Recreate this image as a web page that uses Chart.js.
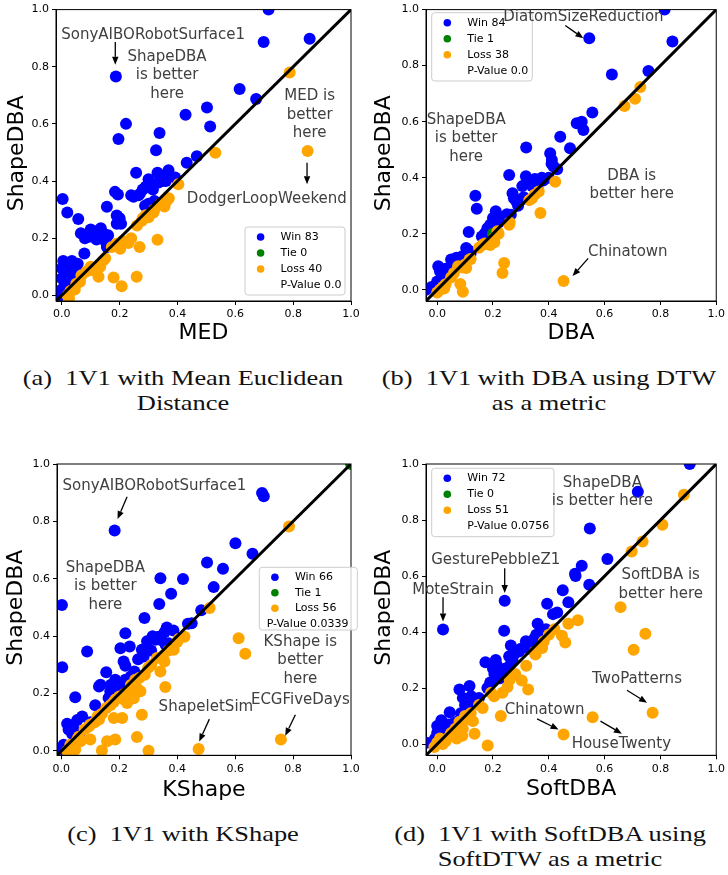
<!DOCTYPE html>
<html>
<head>
<meta charset="utf-8">
<script src="https://cdn.jsdelivr.net/npm/chart.js@4.4.1/dist/chart.umd.min.js"></script>
<style>
  body { margin: 0; background: #fff; width: 728px; height: 875px; position: relative; overflow: hidden; }
  .panel { position: absolute; }
  .cap { position: absolute; width: 364px; text-align: center; font-family: 'Liberation Serif', serif;
         font-size: 22px; line-height: 25px; color: #111; white-space: nowrap; transform: scaleX(1.2); }
</style>
</head>
<body>
<div class="panel" style="left:0;top:0"><canvas id="chartA" width="364" height="350"></canvas></div>
<div class="panel" style="left:364px;top:0"><canvas id="chartB" width="364" height="350"></canvas></div>
<div class="panel" style="left:0;top:450px"><canvas id="chartC" width="364" height="360"></canvas></div>
<div class="panel" style="left:364px;top:450px"><canvas id="chartD" width="364" height="360"></canvas></div>

<div class="cap" style="left:1px;top:365px">(a)&nbsp; 1V1 with Mean Euclidean<br>Distance</div>
<div class="cap" style="left:367px;top:365px">(b)&nbsp; 1V1 with DBA using DTW<br>as a metric</div>
<div class="cap" style="left:1px;top:821px">(c)&nbsp; 1V1 with KShape</div>
<div class="cap" style="left:368px;top:821px">(d)&nbsp; 1V1 with SoftDBA using<br>SoftDTW as a metric</div>

<script>
// ---- data: [x, y] pairs, x = competitor error, y = ShapeDBA error ----
var tickVals = [0.0, 0.2, 0.4, 0.6, 0.8, 1.0];

var aWin = [[0.715,1.0],[0.698,0.887],[0.857,0.898],[0.187,0.766],[0.615,0.722],[0.672,0.687],[0.502,0.657],
  [0.513,0.591],[0.428,0.632],[0.222,0.6],[0.196,0.547],[0.338,0.568],[0.326,0.508],[0.467,0.487],[0.432,0.464],
  [0.257,0.429],[0.331,0.429],[0.369,0.438],[0.392,0.412],[0.30,0.406],[0.31,0.385],[0.29,0.38],[0.315,0.37],
  [0.335,0.395],[0.35,0.40],[0.184,0.362],[0.194,0.353],[0.248,0.345],[0.265,0.35],[0.003,0.337],[0.019,0.29],
  [0.156,0.31],[0.057,0.267],[0.19,0.279],[0.19,0.25],[0.205,0.25],[0.288,0.313],[0.30,0.32],[0.32,0.33],
  [0.066,0.217],[0.094,0.205],[0.11,0.215],[0.125,0.225],[0.135,0.235],[0.145,0.215],[0.16,0.21],[0.15,0.19],
  [0.078,0.146],[0.156,0.169],[0.005,0.12],[0.015,0.11],[0.0,0.095],[0.03,0.085],[0.055,0.11],[0.06,0.08],
  [0.0,0.06],[0.01,0.04],[0.0,0.02],[-0.005,0.0],[0.02,0.07],[0.04,0.06],[0.1,0.23],[0.08,0.2],[0.27,0.355],
  [0.28,0.37],[0.34,0.42],[0.36,0.41],[0.24,0.35],[0.2,0.27],[0.155,0.18],[0.045,0.1],[0.025,0.05],[0.12,0.195],
  [0.035,0.12],[0.36,0.40]];
var aTie = [];
var aLoss = [[0.531,0.499],[0.788,0.78],[0.85,0.505],[0.403,0.389],[0.363,0.331],[0.355,0.311],[0.34,0.319],
  [0.317,0.29],[0.30,0.273],[0.277,0.261],[0.26,0.244],[0.331,0.194],[0.269,0.169],[0.23,0.183],[0.202,0.163],
  [0.173,0.169],[0.144,0.123],[0.133,0.10],[0.109,0.088],[0.086,0.084],[0.127,0.065],[0.063,0.047],[0.068,0.07],
  [0.179,0.062],[0.207,0.032],[0.259,0.065],[0.02,0.0],[0.03,0.015],[0.025,-0.01],[0.29,0.28],[0.32,0.3],
  [0.24,0.2],[0.15,0.13],[0.1,0.1],[0.05,0.04],[0.37,0.34],[0.21,0.19],[0.045,0.02],[0.28,0.27],[0.19,0.18]];
var aLegend = ['Win 83', 'Tie 0', 'Loss 40', 'P-Value 0.0'];

var bWin = [[0.815,1.0],[0.843,0.886],[0.545,0.898],[0.757,0.781],[0.626,0.768],[0.556,0.633],[0.50,0.594],
  [0.518,0.60],[0.524,0.57],[0.441,0.546],[0.476,0.505],[0.319,0.508],[0.405,0.487],[0.411,0.463],[0.417,0.44],
  [0.43,0.43],[0.258,0.41],[0.318,0.405],[0.33,0.385],[0.35,0.395],[0.36,0.378],[0.305,0.37],[0.34,0.37],
  [0.375,0.4],[0.4,0.4],[0.27,0.345],[0.275,0.327],[0.284,0.315],[0.137,0.336],[0.142,0.289],[0.21,0.28],
  [0.2,0.256],[0.19,0.232],[0.187,0.209],[0.22,0.26],[0.23,0.25],[0.113,0.206],[0.104,0.149],[0.113,0.14],
  [0.069,0.114],[0.05,0.108],[0.08,0.11],[0.004,0.084],[0.01,0.066],[0.027,0.06],[-0.04,0.0],[0.0,0.013],
  [0.264,0.268],[0.17,0.2],[0.18,0.22],[0.12,0.13],[0.03,0.075],[0.05,0.07],[0.02,0.04],[0.04,0.05],[-0.02,0.01],
  [0.29,0.3],[0.31,0.33],[0.25,0.27],[0.36,0.36],[0.38,0.39],[0.41,0.45],[0.22,0.24],[0.21,0.22],[0.06,0.09],
  [0.09,0.12],[0.16,0.19],[0.0,0.03],[0.2,0.21],[0.3,0.32]];
var bTie = [[0.2,0.2]];
var bLoss = [[0.728,0.724],[0.709,0.682],[0.671,0.656],[0.423,0.386],[0.364,0.351],[0.34,0.327],[0.37,0.274],
  [0.258,0.232],[0.216,0.209],[0.204,0.185],[0.199,0.173],[0.163,0.161],[0.116,0.108],[0.104,0.078],[0.24,0.096],
  [0.234,0.06],[0.083,0.021],[0.092,-0.007],[0.453,0.031],[0.01,0.0],[0.02,0.01],[0.03,0.02],[0.075,0.084],
  [0.26,0.24],[0.15,0.15],[0.1,0.09],[0.05,0.045],[0.19,0.16],[0.33,0.32],[0.0,-0.01],[0.12,0.11],[0.06,0.06],
  [0.22,0.2],[0.35,0.34],[0.09,0.08],[0.025,0.005],[0.17,0.165],[0.205,0.17]];
var bLegend = ['Win 84', 'Tie 1', 'Loss 38', 'P-Value 0.0'];

var cWin = [[0.693,0.899],[0.699,0.888],[0.184,0.768],[0.601,0.724],[0.66,0.687],[0.503,0.657],[0.558,0.635],
  [0.526,0.571],[0.342,0.602],[0.42,0.599],[0.379,0.548],[0.338,0.512],[0.483,0.49],[0.002,0.509],[0.287,0.463],
  [0.437,0.443],[0.364,0.43],[0.387,0.42],[0.357,0.415],[0.335,0.398],[0.346,0.386],[0.37,0.375],[0.325,0.388],
  [0.221,0.41],[0.296,0.382],[0.204,0.358],[0.236,0.364],[0.089,0.347],[0.215,0.312],[0.221,0.297],[0.278,0.353],
  [0.284,0.329],[0.252,0.277],[0.003,0.292],[0.155,0.274],[0.186,0.248],[0.204,0.237],[0.221,0.248],[0.135,0.231],
  [0.13,0.225],[0.169,0.208],[0.163,0.185],[0.048,0.187],[0.117,0.159],[0.072,0.12],[0.055,0.108],[0.02,0.095],
  [0.03,0.083],[0.037,0.06],[0.065,0.065],[0.008,0.022],[0.014,0.005],[0.0,0.007],[0.265,0.32],[0.24,0.26],
  [0.2,0.225],[0.18,0.2],[0.315,0.4],[0.36,0.37],[0.31,0.35],[0.1,0.1],[0.04,0.09],[0.025,0.075],[0.17,0.23],
  [0.45,0.445]];
var cTie = [[1.0,1.0]];
var cLoss = [[0.786,0.782],[0.512,0.498],[0.612,0.393],[0.635,0.339],[0.425,0.398],[0.405,0.39],[0.388,0.353],
  [0.342,0.277],[0.356,0.312],[0.33,0.324],[0.359,0.223],[0.288,0.266],[0.255,0.248],[0.273,0.208],[0.25,0.184],
  [0.227,0.167],[0.215,0.18],[0.278,0.126],[0.186,0.179],[0.181,0.115],[0.21,0.115],[0.155,0.15],[0.125,0.121],
  [0.1,0.092],[0.1,0.04],[0.158,0.034],[0.186,0.04],[0.261,0.049],[0.14,0.002],[0.301,0.001],[0.474,0.007],
  [0.758,0.04],[0.048,0.005],[0.031,0.022],[0.066,0.034],[0.24,0.23],[0.3,0.29],[0.22,0.2],[0.17,0.16],
  [0.14,0.13],[0.37,0.35],[0.4,0.38],[0.27,0.255],[0.2,0.19],[0.115,0.1],[0.08,0.075],[0.055,0.04],[0.02,0.0],
  [0.245,0.21],[0.31,0.3],[0.35,0.33],[0.13,0.11],[0.18,0.17],[0.26,0.22],[0.06,0.05],[0.095,0.085]];
var cLegend = ['Win 66', 'Tie 1', 'Loss 56', 'P-Value 0.0339'];

var dWin = [[0.905,1.0],[0.719,0.901],[0.547,0.77],[0.61,0.661],[0.518,0.637],[0.494,0.608],[0.496,0.6],
  [0.545,0.569],[0.45,0.549],[0.47,0.506],[0.394,0.501],[0.415,0.464],[0.242,0.512],[0.021,0.409],[0.24,0.405],
  [0.36,0.43],[0.355,0.39],[0.375,0.4],[0.347,0.375],[0.318,0.367],[0.335,0.35],[0.264,0.352],[0.293,0.331],
  [0.275,0.32],[0.258,0.314],[0.173,0.292],[0.21,0.3],[0.215,0.28],[0.2,0.27],[0.205,0.25],[0.235,0.25],
  [0.245,0.27],[0.26,0.28],[0.225,0.235],[0.08,0.195],[0.116,0.207],[0.092,0.165],[0.122,0.171],[0.128,0.153],
  [0.1,0.14],[0.045,0.114],[0.015,0.085],[0.03,0.06],[0.025,0.045],[0.06,0.075],[0.07,0.08],[-0.038,0.005],
  [-0.008,0.019],[0.0,0.04],[0.05,0.06],[0.11,0.12],[0.3,0.34],[0.39,0.41],[0.43,0.47],[0.33,0.34],[0.15,0.165],
  [0.19,0.22],[0.22,0.26],[0.04,0.07],[0.0,0.065],[0.085,0.11],[0.27,0.3],[0.36,0.38],[0.18,0.2],[0.012,0.03]];
var dTie = [];
var dLoss = [[0.884,0.89],[0.807,0.783],[0.736,0.723],[0.697,0.688],[0.657,0.489],[0.746,0.394],[0.704,0.337],
  [0.772,0.112],[0.557,0.096],[0.453,0.034],[0.504,0.442],[0.47,0.43],[0.447,0.387],[0.459,0.363],[0.4,0.39],
  [0.382,0.367],[0.376,0.343],[0.352,0.32],[0.319,0.28],[0.303,0.227],[0.326,0.195],[0.252,0.204],[0.234,0.183],
  [0.193,0.183],[0.204,0.171],[0.163,0.129],[0.228,0.1],[0.128,0.082],[0.134,0.037],[0.181,-0.005],[0.08,0.08],
  [0.092,0.055],[0.07,0.02],[0.045,0.03],[0.02,0.0],[-0.01,-0.01],[0.01,0.02],[0.1,0.1],[0.12,0.11],[0.28,0.25],
  [0.26,0.23],[0.05,0.04],[0.15,0.14],[0.065,0.055],[0.03,0.01],[0.09,0.03],[0.11,0.09],[0.35,0.33],[0.42,0.41],
  [0.0,0.005],[0.075,0.06]];
var dLegend = ['Win 72', 'Tie 0', 'Loss 51', 'P-Value 0.0756'];

var BLUE = '#0000ff', GREEN = '#008000', ORANGE = '#ffa500', NOTE = '#404040';
Chart.defaults.font.family = "'DejaVu Sans', sans-serif";

function toXY(arr) { return arr.map(function (p) { return { x: p[0], y: p[1] }; }); }

// draws frame, legend box, notes, arrows and axis titles
var notesPlugin = {
  id: 'notes',
  afterDraw: function (chart) {
    var cfg = chart.options.plugins.notes, ctx = chart.ctx, ca = chart.chartArea;
    var sx = chart.scales.x, sy = chart.scales.y;
    ctx.save();
    ctx.strokeStyle = '#000';
    ctx.lineWidth = 1;
    ctx.strokeRect(ca.left, ca.top, ca.right - ca.left, ca.bottom - ca.top);

    // legend
    var lg = cfg.legend, colors = [BLUE, GREEN, ORANGE];
    ctx.fillStyle = 'rgba(255,255,255,0.8)';
    ctx.strokeStyle = '#cccccc';
    ctx.beginPath();
    ctx.roundRect(lg.left, lg.top, lg.w, lg.h, 3);
    ctx.fill();
    ctx.stroke();
    ctx.font = "11px 'DejaVu Sans'";
    ctx.textAlign = 'left';
    ctx.textBaseline = 'middle';
    cfg.labels.forEach(function (lab, i) {
      var y = lg.top + 10 + i * lg.step;
      if (i < 3) {
        ctx.fillStyle = colors[i];
        ctx.beginPath();
        ctx.arc(lg.left + 15.6, y, 3.8, 0, Math.PI * 2);
        ctx.fill();
      }
      ctx.fillStyle = '#000';
      ctx.fillText(lab, (i === 3 && lg.pvx) ? lg.pvx : lg.left + 35.6, y);
    });

    ctx.fillStyle = NOTE;
    ctx.font = "15px 'DejaVu Sans'";
    ctx.textAlign = 'center';
    cfg.texts.forEach(function (n) {
      var px = sx.getPixelForValue(n.x), py = sy.getPixelForValue(n.y);
      var lh = 18.5, y0 = py - (n.t.length - 1) * lh / 2;
      n.t.forEach(function (line, i) { ctx.fillText(line, px, y0 + i * lh); });
    });

    ctx.strokeStyle = '#000';
    ctx.fillStyle = '#000';
    ctx.lineWidth = 1.3;
    cfg.arrows.forEach(function (a) {
      var x1 = sx.getPixelForValue(a[0]), y1 = sy.getPixelForValue(a[1]);
      var x2 = sx.getPixelForValue(a[2]), y2 = sy.getPixelForValue(a[3]);
      var ang = Math.atan2(y2 - y1, x2 - x1), hl = 8, hw = 3.2;
      ctx.beginPath();
      ctx.moveTo(x1, y1);
      ctx.lineTo(x2 - hl * Math.cos(ang), y2 - hl * Math.sin(ang));
      ctx.stroke();
      ctx.beginPath();
      ctx.moveTo(x2, y2);
      ctx.lineTo(x2 - hl * Math.cos(ang) + hw * Math.sin(ang), y2 - hl * Math.sin(ang) - hw * Math.cos(ang));
      ctx.lineTo(x2 - hl * Math.cos(ang) - hw * Math.sin(ang), y2 - hl * Math.sin(ang) + hw * Math.cos(ang));
      ctx.closePath();
      ctx.fill();
    });

    // axis titles
    ctx.fillStyle = '#000';
    ctx.font = "22px 'DejaVu Sans'";
    ctx.fillText(cfg.xTitle, (ca.left + ca.right) / 2, cfg.xTitleY);
    ctx.save();
    ctx.translate(cfg.yTitleX, (ca.top + ca.bottom) / 2 - 2);
    ctx.rotate(-Math.PI / 2);
    ctx.fillText('ShapeDBA', 0, 0);
    ctx.restore();
    ctx.restore();
  }
};

function axisOpts(min, size, isX) {
  return {
    type: 'linear', min: min, max: 1,
    afterBuildTicks: function (s) { s.ticks = tickVals.map(function (v) { return { value: v }; }); },
    afterFit: function (s) { if (isX) { s.height = size; } else { s.width = size; } },
    ticks: { font: { size: 11 }, color: '#000', padding: 3, autoSkip: false, maxRotation: 0,
             callback: function (v) { return v.toFixed(1); } },
    grid: { drawOnChartArea: false, drawTicks: true, tickLength: 4, color: '#000' },
    border: { display: true, color: '#000', width: 1 }
  };
}

function makePanel(id, win, tie, loss, labels, p) {
  var lo = p.min, r = 6;
  return new Chart(document.getElementById(id), {
    type: 'scatter',
    data: {
      datasets: [
        { type: 'line', data: [{ x: lo, y: lo }, { x: 1, y: 1 }], borderColor: '#000', borderWidth: 3,
          pointRadius: 0, fill: false, order: 0 },
        { data: toXY(loss), backgroundColor: ORANGE, borderColor: ORANGE, borderWidth: 0, pointRadius: r, order: 1 },
        { data: toXY(tie), backgroundColor: GREEN, borderColor: GREEN, borderWidth: 0, pointRadius: r, order: 2 },
        { data: toXY(win), backgroundColor: BLUE, borderColor: BLUE, borderWidth: 0, pointRadius: r, order: 3 }
      ]
    },
    options: {
      responsive: false,
      animation: false,
      events: [],
      layout: { padding: { left: 0, right: p.padRight, top: p.padTop, bottom: 0 } },
      plugins: {
        legend: { display: false },
        tooltip: { enabled: false },
        notes: { texts: p.texts, arrows: p.arrows, legend: p.legend, labels: labels,
                 xTitle: p.xTitle, xTitleY: p.xTitleY, yTitleX: p.yTitleX }
      },
      scales: { x: axisOpts(lo, p.xAxisH, true), y: axisOpts(lo, p.yAxisW, false) }
    },
    plugins: [notesPlugin]
  });
}

makePanel('chartA', aWin, aTie, aLoss, aLegend, {
  min: -0.02, padRight: 13, padTop: 7, xAxisH: 49, yAxisW: 56,
  xTitle: 'MED', xTitleY: 333, yTitleX: 17,
  legend: { left: 245, top: 227, w: 100, h: 68, step: 16 },
  texts: [
    { t: ['SonyAIBORobotSurface1'], x: 0.316, y: 0.911 },
    { t: ['ShapeDBA', 'is better', 'here'], x: 0.364, y: 0.769 },
    { t: ['MED is', 'better', 'here'], x: 0.857, y: 0.632 },
    { t: ['DodgerLoopWeekend'], x: 0.709, y: 0.337 }
  ],
  arrows: [[0.185, 0.887, 0.185, 0.807], [0.848, 0.464, 0.848, 0.389]]
});

makePanel('chartB', bWin, bTie, bLoss, bLegend, {
  min: -0.04, padRight: 8, padTop: 7, xAxisH: 49, yAxisW: 62,
  xTitle: 'DBA', xTitleY: 333, yTitleX: 20.7,
  legend: { left: 67.7, top: 12.7, w: 100.6, h: 68.3, step: 16 },
  texts: [
    { t: ['DiatomSizeReduction'], x: 0.524, y: 0.973 },
    { t: ['ShapeDBA', 'is better', 'here'], x: 0.104, y: 0.54 },
    { t: ['DBA is', 'better here'], x: 0.697, y: 0.373 },
    { t: ['Chinatown'], x: 0.683, y: 0.135 }
  ],
  arrows: [[0.459, 0.943, 0.524, 0.898], [0.541, 0.112, 0.485, 0.049]]
});

makePanel('chartC', cWin, cTie, cLoss, cLegend, {
  min: -0.015, padRight: 13, padTop: 14, xAxisH: 54.7, yAxisW: 57,
  xTitle: 'KShape', xTitleY: 340, yTitleX: 16.7,
  legend: { left: 259.3, top: 117.3, w: 98, h: 62.7, step: 15.5, pvx: 266.7 },
  texts: [
    { t: ['SonyAIBORobotSurface1'], x: 0.321, y: 0.923 },
    { t: ['ShapeDBA', 'is better', 'here'], x: 0.152, y: 0.573 },
    { t: ['KShape is', 'better', 'here'], x: 0.825, y: 0.315 },
    { t: ['ECGFiveDays'], x: 0.825, y: 0.176 },
    { t: ['ShapeletSim'], x: 0.499, y: 0.153 }
  ],
  arrows: [[0.227, 0.886, 0.194, 0.808], [0.808, 0.126, 0.773, 0.053], [0.511, 0.111, 0.476, 0.033]]
});

makePanel('chartD', dWin, dTie, dLoss, dLegend, {
  min: -0.04, padRight: 8, padTop: 14, xAxisH: 54.7, yAxisW: 62,
  xTitle: 'SoftDBA', xTitleY: 339.3, yTitleX: 20.7,
  legend: { left: 67.7, top: 18.3, w: 122.3, h: 68.4, step: 16 },
  texts: [
    { t: ['ShapeDBA', 'is better here'], x: 0.592, y: 0.9 },
    { t: ['GesturePebbleZ1'], x: 0.21, y: 0.658 },
    { t: ['MoteStrain'], x: 0.057, y: 0.548 },
    { t: ['SoftDBA is', 'better here'], x: 0.801, y: 0.57 },
    { t: ['TwoPatterns'], x: 0.716, y: 0.231 },
    { t: ['Chinatown'], x: 0.385, y: 0.12 },
    { t: ['HouseTwenty'], x: 0.66, y: -0.001 }
  ],
  arrows: [[0.242, 0.628, 0.242, 0.539], [0.021, 0.524, 0.021, 0.438], [0.68, 0.192, 0.752, 0.148],
           [0.358, 0.09, 0.435, 0.052], [0.585, 0.082, 0.662, 0.037]]
});
</script>
</body>
</html>
